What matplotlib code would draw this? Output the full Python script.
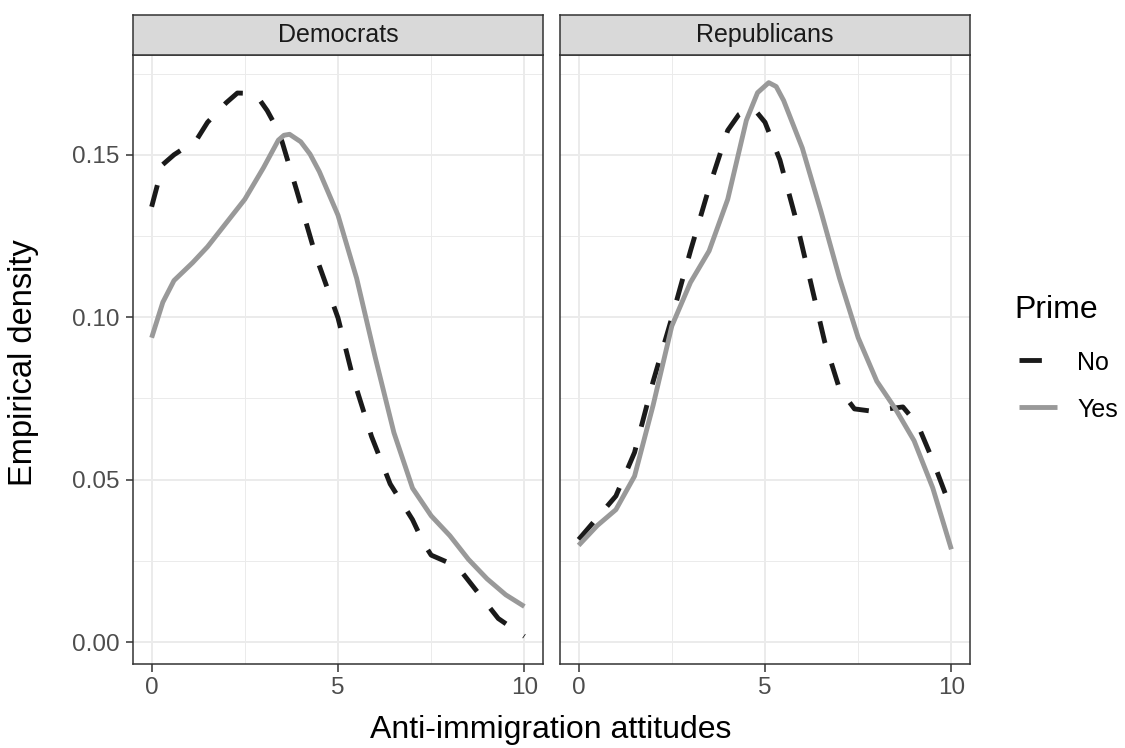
import matplotlib
matplotlib.use("Agg")
import matplotlib.pyplot as plt
from matplotlib.lines import Line2D

plt.rcParams['font.family'] = ['Liberation Sans', 'DejaVu Sans']

panels = ["Democrats", "Republicans"]

dem_no_x = [0, 0.3, 0.6, 1.2, 1.5, 2.0, 2.3, 2.6, 2.8, 3.1, 3.3, 3.5, 3.9, 4.4, 5.0, 5.4, 5.9, 6.4, 7.0, 7.3, 7.5, 8.0, 8.3, 8.8, 9.3, 10]
dem_no_y = [0.134, 0.147, 0.150, 0.1545, 0.160, 0.166, 0.169, 0.1689, 0.1685, 0.1636, 0.1594, 0.154, 0.1387, 0.119, 0.0998, 0.0815, 0.0633, 0.0487, 0.0377, 0.0304, 0.0268, 0.0243, 0.0219, 0.0146, 0.0073, 0.0018]

dem_yes_x = [0, 0.3, 0.6, 1.1, 1.5, 2.0, 2.5, 3.0, 3.4, 3.55, 3.7, 4.0, 4.25, 4.5, 5.0, 5.5, 6.0, 6.5, 7.0, 7.5, 8.0, 8.5, 9.0, 9.5, 10]
dem_yes_y = [0.0937, 0.1046, 0.1113, 0.1168, 0.1217, 0.129, 0.1363, 0.146, 0.1545, 0.156, 0.1563, 0.154, 0.1502, 0.1448, 0.1314, 0.112, 0.0876, 0.0645, 0.0474, 0.0389, 0.0328, 0.0255, 0.0195, 0.0146, 0.011]

rep_no_x = [0, 0.5, 1.0, 1.5, 2.0, 2.5, 3.0, 3.5, 4.0, 4.3, 4.5, 4.7, 5.0, 5.4, 5.8, 6.2, 6.6, 7.0, 7.4, 7.8, 8.3, 8.7, 9.1, 9.5, 10]
rep_no_y = [0.0316, 0.0383, 0.045, 0.0584, 0.0803, 0.0998, 0.1204, 0.1399, 0.1575, 0.1624, 0.1636, 0.1642, 0.160, 0.1484, 0.1314, 0.112, 0.0925, 0.0779, 0.0718, 0.0712, 0.0718, 0.0724, 0.0669, 0.056, 0.0408]

rep_yes_x = [0, 0.5, 1.0, 1.5, 2.0, 2.5, 3.0, 3.5, 4.0, 4.2, 4.5, 4.8, 5.1, 5.3, 5.5, 6.0, 6.5, 7.0, 7.5, 8.0, 8.5, 9.0, 9.5, 10]
rep_yes_y = [0.0298, 0.0359, 0.0408, 0.0511, 0.073, 0.0973, 0.1107, 0.1204, 0.1363, 0.146, 0.1606, 0.1691, 0.1722, 0.171, 0.1667, 0.1521, 0.1326, 0.112, 0.0937, 0.0803, 0.0718, 0.062, 0.0475, 0.0286]

data = {
    "Democrats": [(dem_no_x, dem_no_y), (dem_yes_x, dem_yes_y)],
    "Republicans": [(rep_no_x, rep_no_y), (rep_yes_x, rep_yes_y)],
}

prime_levels = ["No", "Yes"]
x_ticks = [0, 5, 10]
y_ticks = [0.00, 0.05, 0.10, 0.15]
y_tick_labels = ["0.00", "0.05", "0.10", "0.15"]

W, H = 1125, 748
fig = plt.figure(figsize=(W / 100, H / 100), dpi=100)

def px_axes(x0, y0, x1, y1):
    return fig.add_axes([x0 / W, 1 - y1 / H, (x1 - x0) / W, (y1 - y0) / H])

LW = 3.5
no_style = dict(color="#1A1A1A", lw=LW, linestyle=(0, (4.6, 4.4)), dash_capstyle="butt")
yes_style = dict(color="#999999", lw=LW, linestyle="-", solid_capstyle="butt")

panel_x = [(133, 543), (560, 970)]
for i, name in enumerate(panels):
    x0, x1 = panel_x[i]
    ax = px_axes(x0, 55, x1, 664)
    ax.set_xlim(-0.5, 10.5)
    ax.set_ylim(-0.0067, 0.1807)
    ax.set_xticks([2.5, 7.5], minor=True)
    ax.set_yticks([0.025, 0.075, 0.125, 0.175], minor=True)
    ax.grid(which="major", color="#EBEBEB", lw=1.4)
    ax.grid(which="minor", color="#EBEBEB", lw=0.7)
    ax.set_axisbelow(True)
    (nx, ny), (yx, yy) = data[name]
    ax.plot(nx, ny, **no_style, zorder=3)
    ax.plot(yx, yy, **yes_style, zorder=3)
    ax.set_xticks(x_ticks)
    ax.set_xticklabels([str(t) for t in x_ticks])
    ax.set_yticks(y_ticks)
    ax.tick_params(axis="both", which="major", colors="#333333", labelcolor="#4D4D4D",
                   labelsize=17.5, length=5.4, width=1.1)
    ax.tick_params(axis="x", which="major", pad=4)
    ax.tick_params(axis="y", which="major", pad=4.5)
    ax.tick_params(axis="both", which="minor", length=0)
    if i == 0:
        ax.set_yticklabels(y_tick_labels)
    else:
        ax.set_yticklabels([])
        ax.tick_params(axis="y", which="major", length=0)
    for s in ax.spines.values():
        s.set_color("#333333")
        s.set_linewidth(1.1)
    # strip
    sax = px_axes(x0, 15, x1, 55)
    sax.set_facecolor("#D9D9D9")
    sax.set_xticks([]); sax.set_yticks([])
    for s in sax.spines.values():
        s.set_color("#333333")
        s.set_linewidth(1.1)
    sax.text(0.5, 0.5, name, ha="center", va="center", fontsize=18, color="#1A1A1A",
             transform=sax.transAxes)

fig.text(551 / W, 1 - 738 / H, "Anti-immigration attitudes", ha="center", va="baseline",
         fontsize=23, color="black")
fig.text(24 / W, 1 - 363 / H, "Empirical density", ha="center", va="center",
         fontsize=23.5, rotation=90, color="black")

# legend
fig.text(1014 / W, 1 - 318 / H, "Prime", ha="left", va="baseline", fontsize=23, color="black")
key_y = [360, 407]
styles = [no_style, yes_style]
for lab, ky, st in zip(prime_levels, key_y, styles):
    fig.add_artist(Line2D([1019 / W, 1057 / W], [1 - ky / H, 1 - ky / H],
                          transform=fig.transFigure, **st))
    fig.text(1077 / W, 1 - (ky + 10) / H, lab, ha="left", va="baseline", fontsize=18,
             color="black")

fig.savefig("out.png", dpi=100, facecolor="white")
